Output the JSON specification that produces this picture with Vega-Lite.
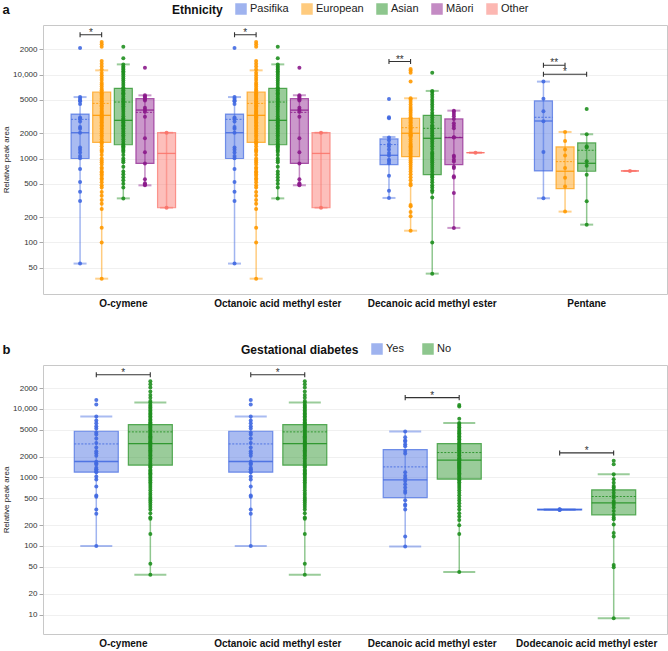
{
"$schema": "https://vega.github.io/schema/vega-lite/v6.json",
"padding": {"left": 2, "top": 2, "right": 0, "bottom": 0},
"config": {
  "font": "Liberation Sans",
  "view": {"stroke": "#c8c8c8", "strokeWidth": 1},
  "concat": {"spacing": 33},
  "axis": {"labelFont": "Liberation Sans", "titleFont": "Liberation Sans"}
},
"resolve": {"scale": {"color": "independent", "stroke": "independent", "xOffset": "independent", "x": "independent", "y": "independent"}, "legend": {"color": "independent", "stroke": "independent"}},
"datasets": {
  "statsA": [
    {"compound":"O-cymene","group":"Pasifika","lo":56,"q1":1000,"med":2030,"mean":2930,"q3":3390,"hi":5400},
    {"compound":"O-cymene","group":"European","lo":37,"q1":1560,"med":3270,"mean":4540,"q3":6200,"hi":11240},
    {"compound":"O-cymene","group":"Asian","lo":335,"q1":1460,"med":2850,"mean":4710,"q3":6860,"hi":13240},
    {"compound":"O-cymene","group":"Māori","lo":479,"q1":875,"med":3780,"mean":3550,"q3":5160,"hi":5660},
    {"compound":"O-cymene","group":"Other","lo":259,"q1":259,"med":1150,"mean":null,"q3":2030,"hi":2030},
    {"compound":"Octanoic acid methyl ester","group":"Pasifika","lo":56,"q1":1000,"med":2030,"mean":2930,"q3":3390,"hi":5400},
    {"compound":"Octanoic acid methyl ester","group":"European","lo":37,"q1":1560,"med":3270,"mean":4540,"q3":6200,"hi":11240},
    {"compound":"Octanoic acid methyl ester","group":"Asian","lo":335,"q1":1460,"med":2850,"mean":4710,"q3":6860,"hi":13240},
    {"compound":"Octanoic acid methyl ester","group":"Māori","lo":479,"q1":875,"med":3780,"mean":3550,"q3":5160,"hi":5660},
    {"compound":"Octanoic acid methyl ester","group":"Other","lo":259,"q1":259,"med":1150,"mean":null,"q3":2030,"hi":2030},
    {"compound":"Decanoic acid methyl ester","group":"Pasifika","lo":339,"q1":846,"med":1093,"mean":1465,"q3":1710,"hi":1807},
    {"compound":"Decanoic acid methyl ester","group":"European","lo":138,"q1":1054,"med":2000,"mean":2330,"q3":3020,"hi":5220},
    {"compound":"Decanoic acid methyl ester","group":"Asian","lo":42.5,"q1":643,"med":1742,"mean":2290,"q3":3275,"hi":6390},
    {"compound":"Decanoic acid methyl ester","group":"Māori","lo":149,"q1":846,"med":1775,"mean":1790,"q3":2960,"hi":3720},
    {"compound":"Decanoic acid methyl ester","group":"Other","lo":1175,"q1":1175,"med":1175,"mean":null,"q3":1175,"hi":1175},
    {"compound":"Pentane","group":"Pasifika","lo":336,"q1":711,"med":2800,"mean":3100,"q3":4850,"hi":8250},
    {"compound":"Pentane","group":"European","lo":233,"q1":438,"med":705,"mean":918,"q3":1374,"hi":2073},
    {"compound":"Pentane","group":"Asian","lo":163,"q1":705,"med":877,"mean":1254,"q3":1534,"hi":1945},
    {"compound":"Pentane","group":"Other","lo":711,"q1":711,"med":711,"mean":null,"q3":711,"hi":711}
  ],
  "bracketsA": [
    {"compound":"O-cymene","group":"Pasifika","vs":"European","y":29900,"label":"*"},
    {"compound":"Octanoic acid methyl ester","group":"Pasifika","vs":"European","y":29900,"label":"*"},
    {"compound":"Decanoic acid methyl ester","group":"Pasifika","vs":"European","y":14300,"label":"**"},
    {"compound":"Pentane","group":"Pasifika","vs":"European","y":12900,"label":"**"},
    {"compound":"Pentane","group":"Pasifika","vs":"Asian","y":10100,"label":"*"}
  ],
  "pointsA": [
    {"compound":"O-cymene","group":"Pasifika","value":20750},{"compound":"O-cymene","group":"Pasifika","value":5410},{"compound":"O-cymene","group":"Pasifika","value":5160},{"compound":"O-cymene","group":"Pasifika","value":4930},{"compound":"O-cymene","group":"Pasifika","value":4800},{"compound":"O-cymene","group":"Pasifika","value":4460},{"compound":"O-cymene","group":"Pasifika","value":3090},{"compound":"O-cymene","group":"Pasifika","value":2980},{"compound":"O-cymene","group":"Pasifika","value":2770},{"compound":"O-cymene","group":"Pasifika","value":2370},{"compound":"O-cymene","group":"Pasifika","value":2270},{"compound":"O-cymene","group":"Pasifika","value":2030},{"compound":"O-cymene","group":"Pasifika","value":1350},{"compound":"O-cymene","group":"Pasifika","value":1270},{"compound":"O-cymene","group":"Pasifika","value":1180},{"compound":"O-cymene","group":"Pasifika","value":1070},{"compound":"O-cymene","group":"Pasifika","value":1010},{"compound":"O-cymene","group":"Pasifika","value":750},{"compound":"O-cymene","group":"Pasifika","value":525},{"compound":"O-cymene","group":"Pasifika","value":403},{"compound":"O-cymene","group":"Pasifika","value":311},{"compound":"O-cymene","group":"Pasifika","value":56},
    {"compound":"O-cymene","group":"European","value":24500},{"compound":"O-cymene","group":"European","value":23000},{"compound":"O-cymene","group":"European","value":21500},{"compound":"O-cymene","group":"European","value":14500},{"compound":"O-cymene","group":"European","value":13500},{"compound":"O-cymene","group":"European","value":12500},{"compound":"O-cymene","group":"European","value":11500},{"compound":"O-cymene","group":"European","value":10500},{"compound":"O-cymene","group":"European","value":9800},{"compound":"O-cymene","group":"European","value":9200},{"compound":"O-cymene","group":"European","value":8600},{"compound":"O-cymene","group":"European","value":8000},{"compound":"O-cymene","group":"European","value":7600},{"compound":"O-cymene","group":"European","value":7200},{"compound":"O-cymene","group":"European","value":6800},{"compound":"O-cymene","group":"European","value":6500},{"compound":"O-cymene","group":"European","value":6200},{"compound":"O-cymene","group":"European","value":6000},{"compound":"O-cymene","group":"European","value":5800},{"compound":"O-cymene","group":"European","value":5600},{"compound":"O-cymene","group":"European","value":5400},{"compound":"O-cymene","group":"European","value":5200},{"compound":"O-cymene","group":"European","value":5000},{"compound":"O-cymene","group":"European","value":4800},{"compound":"O-cymene","group":"European","value":4700},{"compound":"O-cymene","group":"European","value":4500},{"compound":"O-cymene","group":"European","value":4300},{"compound":"O-cymene","group":"European","value":4200},{"compound":"O-cymene","group":"European","value":4000},{"compound":"O-cymene","group":"European","value":3900},{"compound":"O-cymene","group":"European","value":3700},{"compound":"O-cymene","group":"European","value":3600},{"compound":"O-cymene","group":"European","value":3500},{"compound":"O-cymene","group":"European","value":3400},{"compound":"O-cymene","group":"European","value":3300},{"compound":"O-cymene","group":"European","value":3200},{"compound":"O-cymene","group":"European","value":3100},{"compound":"O-cymene","group":"European","value":3000},{"compound":"O-cymene","group":"European","value":2900},{"compound":"O-cymene","group":"European","value":2800},{"compound":"O-cymene","group":"European","value":2700},{"compound":"O-cymene","group":"European","value":2600},{"compound":"O-cymene","group":"European","value":2500},{"compound":"O-cymene","group":"European","value":2400},{"compound":"O-cymene","group":"European","value":2300},{"compound":"O-cymene","group":"European","value":2200},{"compound":"O-cymene","group":"European","value":2100},{"compound":"O-cymene","group":"European","value":2000},{"compound":"O-cymene","group":"European","value":1900},{"compound":"O-cymene","group":"European","value":1800},{"compound":"O-cymene","group":"European","value":1700},{"compound":"O-cymene","group":"European","value":1600},{"compound":"O-cymene","group":"European","value":1550},{"compound":"O-cymene","group":"European","value":1500},{"compound":"O-cymene","group":"European","value":1400},{"compound":"O-cymene","group":"European","value":1300},{"compound":"O-cymene","group":"European","value":1250},{"compound":"O-cymene","group":"European","value":1200},{"compound":"O-cymene","group":"European","value":1100},{"compound":"O-cymene","group":"European","value":1000},{"compound":"O-cymene","group":"European","value":950},{"compound":"O-cymene","group":"European","value":900},{"compound":"O-cymene","group":"European","value":850},{"compound":"O-cymene","group":"European","value":780},{"compound":"O-cymene","group":"European","value":750},{"compound":"O-cymene","group":"European","value":700},{"compound":"O-cymene","group":"European","value":680},{"compound":"O-cymene","group":"European","value":650},{"compound":"O-cymene","group":"European","value":620},{"compound":"O-cymene","group":"European","value":580},{"compound":"O-cymene","group":"European","value":560},{"compound":"O-cymene","group":"European","value":520},{"compound":"O-cymene","group":"European","value":480},{"compound":"O-cymene","group":"European","value":450},{"compound":"O-cymene","group":"European","value":400},{"compound":"O-cymene","group":"European","value":360},{"compound":"O-cymene","group":"European","value":320},{"compound":"O-cymene","group":"European","value":290},{"compound":"O-cymene","group":"European","value":250},{"compound":"O-cymene","group":"European","value":150},{"compound":"O-cymene","group":"European","value":100},{"compound":"O-cymene","group":"European","value":37},
    {"compound":"O-cymene","group":"Asian","value":21500},{"compound":"O-cymene","group":"Asian","value":15700},{"compound":"O-cymene","group":"Asian","value":13200},{"compound":"O-cymene","group":"Asian","value":12500},{"compound":"O-cymene","group":"Asian","value":12000},{"compound":"O-cymene","group":"Asian","value":11500},{"compound":"O-cymene","group":"Asian","value":11000},{"compound":"O-cymene","group":"Asian","value":10500},{"compound":"O-cymene","group":"Asian","value":10000},{"compound":"O-cymene","group":"Asian","value":9500},{"compound":"O-cymene","group":"Asian","value":9000},{"compound":"O-cymene","group":"Asian","value":8500},{"compound":"O-cymene","group":"Asian","value":8000},{"compound":"O-cymene","group":"Asian","value":7500},{"compound":"O-cymene","group":"Asian","value":7000},{"compound":"O-cymene","group":"Asian","value":6800},{"compound":"O-cymene","group":"Asian","value":6500},{"compound":"O-cymene","group":"Asian","value":6200},{"compound":"O-cymene","group":"Asian","value":6000},{"compound":"O-cymene","group":"Asian","value":5800},{"compound":"O-cymene","group":"Asian","value":5500},{"compound":"O-cymene","group":"Asian","value":5200},{"compound":"O-cymene","group":"Asian","value":5000},{"compound":"O-cymene","group":"Asian","value":4800},{"compound":"O-cymene","group":"Asian","value":4600},{"compound":"O-cymene","group":"Asian","value":4400},{"compound":"O-cymene","group":"Asian","value":4200},{"compound":"O-cymene","group":"Asian","value":4000},{"compound":"O-cymene","group":"Asian","value":3800},{"compound":"O-cymene","group":"Asian","value":3600},{"compound":"O-cymene","group":"Asian","value":3400},{"compound":"O-cymene","group":"Asian","value":3200},{"compound":"O-cymene","group":"Asian","value":3000},{"compound":"O-cymene","group":"Asian","value":2900},{"compound":"O-cymene","group":"Asian","value":2800},{"compound":"O-cymene","group":"Asian","value":2700},{"compound":"O-cymene","group":"Asian","value":2600},{"compound":"O-cymene","group":"Asian","value":2500},{"compound":"O-cymene","group":"Asian","value":2400},{"compound":"O-cymene","group":"Asian","value":2300},{"compound":"O-cymene","group":"Asian","value":2200},{"compound":"O-cymene","group":"Asian","value":2100},{"compound":"O-cymene","group":"Asian","value":2000},{"compound":"O-cymene","group":"Asian","value":1900},{"compound":"O-cymene","group":"Asian","value":1800},{"compound":"O-cymene","group":"Asian","value":1700},{"compound":"O-cymene","group":"Asian","value":1600},{"compound":"O-cymene","group":"Asian","value":1500},{"compound":"O-cymene","group":"Asian","value":1450},{"compound":"O-cymene","group":"Asian","value":1400},{"compound":"O-cymene","group":"Asian","value":1350},{"compound":"O-cymene","group":"Asian","value":1300},{"compound":"O-cymene","group":"Asian","value":1250},{"compound":"O-cymene","group":"Asian","value":1200},{"compound":"O-cymene","group":"Asian","value":1100},{"compound":"O-cymene","group":"Asian","value":1000},{"compound":"O-cymene","group":"Asian","value":950},{"compound":"O-cymene","group":"Asian","value":900},{"compound":"O-cymene","group":"Asian","value":800},{"compound":"O-cymene","group":"Asian","value":700},{"compound":"O-cymene","group":"Asian","value":650},{"compound":"O-cymene","group":"Asian","value":600},{"compound":"O-cymene","group":"Asian","value":550},{"compound":"O-cymene","group":"Asian","value":500},{"compound":"O-cymene","group":"Asian","value":450},{"compound":"O-cymene","group":"Asian","value":335},
    {"compound":"O-cymene","group":"Māori","value":12100},{"compound":"O-cymene","group":"Māori","value":5660},{"compound":"O-cymene","group":"Māori","value":5500},{"compound":"O-cymene","group":"Māori","value":5300},{"compound":"O-cymene","group":"Māori","value":5100},{"compound":"O-cymene","group":"Māori","value":4900},{"compound":"O-cymene","group":"Māori","value":4040},{"compound":"O-cymene","group":"Māori","value":3800},{"compound":"O-cymene","group":"Māori","value":3600},{"compound":"O-cymene","group":"Māori","value":3150},{"compound":"O-cymene","group":"Māori","value":1740},{"compound":"O-cymene","group":"Māori","value":1190},{"compound":"O-cymene","group":"Māori","value":875},{"compound":"O-cymene","group":"Māori","value":565},{"compound":"O-cymene","group":"Māori","value":506},{"compound":"O-cymene","group":"Māori","value":490},{"compound":"O-cymene","group":"Māori","value":479},
    {"compound":"O-cymene","group":"Other","value":2030},{"compound":"O-cymene","group":"Other","value":259},
    {"compound":"Octanoic acid methyl ester","group":"Pasifika","value":20750},{"compound":"Octanoic acid methyl ester","group":"Pasifika","value":5410},{"compound":"Octanoic acid methyl ester","group":"Pasifika","value":5160},{"compound":"Octanoic acid methyl ester","group":"Pasifika","value":4930},{"compound":"Octanoic acid methyl ester","group":"Pasifika","value":4800},{"compound":"Octanoic acid methyl ester","group":"Pasifika","value":4460},{"compound":"Octanoic acid methyl ester","group":"Pasifika","value":3090},{"compound":"Octanoic acid methyl ester","group":"Pasifika","value":2980},{"compound":"Octanoic acid methyl ester","group":"Pasifika","value":2770},{"compound":"Octanoic acid methyl ester","group":"Pasifika","value":2370},{"compound":"Octanoic acid methyl ester","group":"Pasifika","value":2270},{"compound":"Octanoic acid methyl ester","group":"Pasifika","value":2030},{"compound":"Octanoic acid methyl ester","group":"Pasifika","value":1350},{"compound":"Octanoic acid methyl ester","group":"Pasifika","value":1270},{"compound":"Octanoic acid methyl ester","group":"Pasifika","value":1180},{"compound":"Octanoic acid methyl ester","group":"Pasifika","value":1070},{"compound":"Octanoic acid methyl ester","group":"Pasifika","value":1010},{"compound":"Octanoic acid methyl ester","group":"Pasifika","value":750},{"compound":"Octanoic acid methyl ester","group":"Pasifika","value":525},{"compound":"Octanoic acid methyl ester","group":"Pasifika","value":403},{"compound":"Octanoic acid methyl ester","group":"Pasifika","value":311},{"compound":"Octanoic acid methyl ester","group":"Pasifika","value":56},
    {"compound":"Octanoic acid methyl ester","group":"European","value":24500},{"compound":"Octanoic acid methyl ester","group":"European","value":23000},{"compound":"Octanoic acid methyl ester","group":"European","value":21500},{"compound":"Octanoic acid methyl ester","group":"European","value":14500},{"compound":"Octanoic acid methyl ester","group":"European","value":13500},{"compound":"Octanoic acid methyl ester","group":"European","value":12500},{"compound":"Octanoic acid methyl ester","group":"European","value":11500},{"compound":"Octanoic acid methyl ester","group":"European","value":10500},{"compound":"Octanoic acid methyl ester","group":"European","value":9800},{"compound":"Octanoic acid methyl ester","group":"European","value":9200},{"compound":"Octanoic acid methyl ester","group":"European","value":8600},{"compound":"Octanoic acid methyl ester","group":"European","value":8000},{"compound":"Octanoic acid methyl ester","group":"European","value":7600},{"compound":"Octanoic acid methyl ester","group":"European","value":7200},{"compound":"Octanoic acid methyl ester","group":"European","value":6800},{"compound":"Octanoic acid methyl ester","group":"European","value":6500},{"compound":"Octanoic acid methyl ester","group":"European","value":6200},{"compound":"Octanoic acid methyl ester","group":"European","value":6000},{"compound":"Octanoic acid methyl ester","group":"European","value":5800},{"compound":"Octanoic acid methyl ester","group":"European","value":5600},{"compound":"Octanoic acid methyl ester","group":"European","value":5400},{"compound":"Octanoic acid methyl ester","group":"European","value":5200},{"compound":"Octanoic acid methyl ester","group":"European","value":5000},{"compound":"Octanoic acid methyl ester","group":"European","value":4800},{"compound":"Octanoic acid methyl ester","group":"European","value":4700},{"compound":"Octanoic acid methyl ester","group":"European","value":4500},{"compound":"Octanoic acid methyl ester","group":"European","value":4300},{"compound":"Octanoic acid methyl ester","group":"European","value":4200},{"compound":"Octanoic acid methyl ester","group":"European","value":4000},{"compound":"Octanoic acid methyl ester","group":"European","value":3900},{"compound":"Octanoic acid methyl ester","group":"European","value":3700},{"compound":"Octanoic acid methyl ester","group":"European","value":3600},{"compound":"Octanoic acid methyl ester","group":"European","value":3500},{"compound":"Octanoic acid methyl ester","group":"European","value":3400},{"compound":"Octanoic acid methyl ester","group":"European","value":3300},{"compound":"Octanoic acid methyl ester","group":"European","value":3200},{"compound":"Octanoic acid methyl ester","group":"European","value":3100},{"compound":"Octanoic acid methyl ester","group":"European","value":3000},{"compound":"Octanoic acid methyl ester","group":"European","value":2900},{"compound":"Octanoic acid methyl ester","group":"European","value":2800},{"compound":"Octanoic acid methyl ester","group":"European","value":2700},{"compound":"Octanoic acid methyl ester","group":"European","value":2600},{"compound":"Octanoic acid methyl ester","group":"European","value":2500},{"compound":"Octanoic acid methyl ester","group":"European","value":2400},{"compound":"Octanoic acid methyl ester","group":"European","value":2300},{"compound":"Octanoic acid methyl ester","group":"European","value":2200},{"compound":"Octanoic acid methyl ester","group":"European","value":2100},{"compound":"Octanoic acid methyl ester","group":"European","value":2000},{"compound":"Octanoic acid methyl ester","group":"European","value":1900},{"compound":"Octanoic acid methyl ester","group":"European","value":1800},{"compound":"Octanoic acid methyl ester","group":"European","value":1700},{"compound":"Octanoic acid methyl ester","group":"European","value":1600},{"compound":"Octanoic acid methyl ester","group":"European","value":1550},{"compound":"Octanoic acid methyl ester","group":"European","value":1500},{"compound":"Octanoic acid methyl ester","group":"European","value":1400},{"compound":"Octanoic acid methyl ester","group":"European","value":1300},{"compound":"Octanoic acid methyl ester","group":"European","value":1250},{"compound":"Octanoic acid methyl ester","group":"European","value":1200},{"compound":"Octanoic acid methyl ester","group":"European","value":1100},{"compound":"Octanoic acid methyl ester","group":"European","value":1000},{"compound":"Octanoic acid methyl ester","group":"European","value":950},{"compound":"Octanoic acid methyl ester","group":"European","value":900},{"compound":"Octanoic acid methyl ester","group":"European","value":850},{"compound":"Octanoic acid methyl ester","group":"European","value":780},{"compound":"Octanoic acid methyl ester","group":"European","value":750},{"compound":"Octanoic acid methyl ester","group":"European","value":700},{"compound":"Octanoic acid methyl ester","group":"European","value":680},{"compound":"Octanoic acid methyl ester","group":"European","value":650},{"compound":"Octanoic acid methyl ester","group":"European","value":620},{"compound":"Octanoic acid methyl ester","group":"European","value":580},{"compound":"Octanoic acid methyl ester","group":"European","value":560},{"compound":"Octanoic acid methyl ester","group":"European","value":520},{"compound":"Octanoic acid methyl ester","group":"European","value":480},{"compound":"Octanoic acid methyl ester","group":"European","value":450},{"compound":"Octanoic acid methyl ester","group":"European","value":400},{"compound":"Octanoic acid methyl ester","group":"European","value":360},{"compound":"Octanoic acid methyl ester","group":"European","value":320},{"compound":"Octanoic acid methyl ester","group":"European","value":290},{"compound":"Octanoic acid methyl ester","group":"European","value":250},{"compound":"Octanoic acid methyl ester","group":"European","value":150},{"compound":"Octanoic acid methyl ester","group":"European","value":100},{"compound":"Octanoic acid methyl ester","group":"European","value":37},
    {"compound":"Octanoic acid methyl ester","group":"Asian","value":21500},{"compound":"Octanoic acid methyl ester","group":"Asian","value":15700},{"compound":"Octanoic acid methyl ester","group":"Asian","value":13200},{"compound":"Octanoic acid methyl ester","group":"Asian","value":12500},{"compound":"Octanoic acid methyl ester","group":"Asian","value":12000},{"compound":"Octanoic acid methyl ester","group":"Asian","value":11500},{"compound":"Octanoic acid methyl ester","group":"Asian","value":11000},{"compound":"Octanoic acid methyl ester","group":"Asian","value":10500},{"compound":"Octanoic acid methyl ester","group":"Asian","value":10000},{"compound":"Octanoic acid methyl ester","group":"Asian","value":9500},{"compound":"Octanoic acid methyl ester","group":"Asian","value":9000},{"compound":"Octanoic acid methyl ester","group":"Asian","value":8500},{"compound":"Octanoic acid methyl ester","group":"Asian","value":8000},{"compound":"Octanoic acid methyl ester","group":"Asian","value":7500},{"compound":"Octanoic acid methyl ester","group":"Asian","value":7000},{"compound":"Octanoic acid methyl ester","group":"Asian","value":6800},{"compound":"Octanoic acid methyl ester","group":"Asian","value":6500},{"compound":"Octanoic acid methyl ester","group":"Asian","value":6200},{"compound":"Octanoic acid methyl ester","group":"Asian","value":6000},{"compound":"Octanoic acid methyl ester","group":"Asian","value":5800},{"compound":"Octanoic acid methyl ester","group":"Asian","value":5500},{"compound":"Octanoic acid methyl ester","group":"Asian","value":5200},{"compound":"Octanoic acid methyl ester","group":"Asian","value":5000},{"compound":"Octanoic acid methyl ester","group":"Asian","value":4800},{"compound":"Octanoic acid methyl ester","group":"Asian","value":4600},{"compound":"Octanoic acid methyl ester","group":"Asian","value":4400},{"compound":"Octanoic acid methyl ester","group":"Asian","value":4200},{"compound":"Octanoic acid methyl ester","group":"Asian","value":4000},{"compound":"Octanoic acid methyl ester","group":"Asian","value":3800},{"compound":"Octanoic acid methyl ester","group":"Asian","value":3600},{"compound":"Octanoic acid methyl ester","group":"Asian","value":3400},{"compound":"Octanoic acid methyl ester","group":"Asian","value":3200},{"compound":"Octanoic acid methyl ester","group":"Asian","value":3000},{"compound":"Octanoic acid methyl ester","group":"Asian","value":2900},{"compound":"Octanoic acid methyl ester","group":"Asian","value":2800},{"compound":"Octanoic acid methyl ester","group":"Asian","value":2700},{"compound":"Octanoic acid methyl ester","group":"Asian","value":2600},{"compound":"Octanoic acid methyl ester","group":"Asian","value":2500},{"compound":"Octanoic acid methyl ester","group":"Asian","value":2400},{"compound":"Octanoic acid methyl ester","group":"Asian","value":2300},{"compound":"Octanoic acid methyl ester","group":"Asian","value":2200},{"compound":"Octanoic acid methyl ester","group":"Asian","value":2100},{"compound":"Octanoic acid methyl ester","group":"Asian","value":2000},{"compound":"Octanoic acid methyl ester","group":"Asian","value":1900},{"compound":"Octanoic acid methyl ester","group":"Asian","value":1800},{"compound":"Octanoic acid methyl ester","group":"Asian","value":1700},{"compound":"Octanoic acid methyl ester","group":"Asian","value":1600},{"compound":"Octanoic acid methyl ester","group":"Asian","value":1500},{"compound":"Octanoic acid methyl ester","group":"Asian","value":1450},{"compound":"Octanoic acid methyl ester","group":"Asian","value":1400},{"compound":"Octanoic acid methyl ester","group":"Asian","value":1350},{"compound":"Octanoic acid methyl ester","group":"Asian","value":1300},{"compound":"Octanoic acid methyl ester","group":"Asian","value":1250},{"compound":"Octanoic acid methyl ester","group":"Asian","value":1200},{"compound":"Octanoic acid methyl ester","group":"Asian","value":1100},{"compound":"Octanoic acid methyl ester","group":"Asian","value":1000},{"compound":"Octanoic acid methyl ester","group":"Asian","value":950},{"compound":"Octanoic acid methyl ester","group":"Asian","value":900},{"compound":"Octanoic acid methyl ester","group":"Asian","value":800},{"compound":"Octanoic acid methyl ester","group":"Asian","value":700},{"compound":"Octanoic acid methyl ester","group":"Asian","value":650},{"compound":"Octanoic acid methyl ester","group":"Asian","value":600},{"compound":"Octanoic acid methyl ester","group":"Asian","value":550},{"compound":"Octanoic acid methyl ester","group":"Asian","value":500},{"compound":"Octanoic acid methyl ester","group":"Asian","value":450},{"compound":"Octanoic acid methyl ester","group":"Asian","value":335},
    {"compound":"Octanoic acid methyl ester","group":"Māori","value":12100},{"compound":"Octanoic acid methyl ester","group":"Māori","value":5660},{"compound":"Octanoic acid methyl ester","group":"Māori","value":5500},{"compound":"Octanoic acid methyl ester","group":"Māori","value":5300},{"compound":"Octanoic acid methyl ester","group":"Māori","value":5100},{"compound":"Octanoic acid methyl ester","group":"Māori","value":4900},{"compound":"Octanoic acid methyl ester","group":"Māori","value":4040},{"compound":"Octanoic acid methyl ester","group":"Māori","value":3800},{"compound":"Octanoic acid methyl ester","group":"Māori","value":3600},{"compound":"Octanoic acid methyl ester","group":"Māori","value":3150},{"compound":"Octanoic acid methyl ester","group":"Māori","value":1740},{"compound":"Octanoic acid methyl ester","group":"Māori","value":1190},{"compound":"Octanoic acid methyl ester","group":"Māori","value":875},{"compound":"Octanoic acid methyl ester","group":"Māori","value":565},{"compound":"Octanoic acid methyl ester","group":"Māori","value":506},{"compound":"Octanoic acid methyl ester","group":"Māori","value":490},{"compound":"Octanoic acid methyl ester","group":"Māori","value":479},
    {"compound":"Octanoic acid methyl ester","group":"Other","value":2030},{"compound":"Octanoic acid methyl ester","group":"Other","value":259},
    {"compound":"Decanoic acid methyl ester","group":"Pasifika","value":5130},{"compound":"Decanoic acid methyl ester","group":"Pasifika","value":3100},{"compound":"Decanoic acid methyl ester","group":"Pasifika","value":3020},{"compound":"Decanoic acid methyl ester","group":"Pasifika","value":1775},{"compound":"Decanoic acid methyl ester","group":"Pasifika","value":1650},{"compound":"Decanoic acid methyl ester","group":"Pasifika","value":1490},{"compound":"Decanoic acid methyl ester","group":"Pasifika","value":1400},{"compound":"Decanoic acid methyl ester","group":"Pasifika","value":1280},{"compound":"Decanoic acid methyl ester","group":"Pasifika","value":1165},{"compound":"Decanoic acid methyl ester","group":"Pasifika","value":1083},{"compound":"Decanoic acid methyl ester","group":"Pasifika","value":970},{"compound":"Decanoic acid methyl ester","group":"Pasifika","value":935},{"compound":"Decanoic acid methyl ester","group":"Pasifika","value":878},{"compound":"Decanoic acid methyl ester","group":"Pasifika","value":625},{"compound":"Decanoic acid methyl ester","group":"Pasifika","value":414},{"compound":"Decanoic acid methyl ester","group":"Pasifika","value":339},
    {"compound":"Decanoic acid methyl ester","group":"European","value":11700},{"compound":"Decanoic acid methyl ester","group":"European","value":11200},{"compound":"Decanoic acid methyl ester","group":"European","value":10500},{"compound":"Decanoic acid methyl ester","group":"European","value":8250},{"compound":"Decanoic acid methyl ester","group":"European","value":5220},{"compound":"Decanoic acid methyl ester","group":"European","value":5000},{"compound":"Decanoic acid methyl ester","group":"European","value":4700},{"compound":"Decanoic acid methyl ester","group":"European","value":4400},{"compound":"Decanoic acid methyl ester","group":"European","value":4100},{"compound":"Decanoic acid methyl ester","group":"European","value":3900},{"compound":"Decanoic acid methyl ester","group":"European","value":3700},{"compound":"Decanoic acid methyl ester","group":"European","value":3500},{"compound":"Decanoic acid methyl ester","group":"European","value":3300},{"compound":"Decanoic acid methyl ester","group":"European","value":3100},{"compound":"Decanoic acid methyl ester","group":"European","value":3000},{"compound":"Decanoic acid methyl ester","group":"European","value":2900},{"compound":"Decanoic acid methyl ester","group":"European","value":2800},{"compound":"Decanoic acid methyl ester","group":"European","value":2700},{"compound":"Decanoic acid methyl ester","group":"European","value":2600},{"compound":"Decanoic acid methyl ester","group":"European","value":2500},{"compound":"Decanoic acid methyl ester","group":"European","value":2400},{"compound":"Decanoic acid methyl ester","group":"European","value":2300},{"compound":"Decanoic acid methyl ester","group":"European","value":2200},{"compound":"Decanoic acid methyl ester","group":"European","value":2100},{"compound":"Decanoic acid methyl ester","group":"European","value":2000},{"compound":"Decanoic acid methyl ester","group":"European","value":1950},{"compound":"Decanoic acid methyl ester","group":"European","value":1900},{"compound":"Decanoic acid methyl ester","group":"European","value":1850},{"compound":"Decanoic acid methyl ester","group":"European","value":1800},{"compound":"Decanoic acid methyl ester","group":"European","value":1700},{"compound":"Decanoic acid methyl ester","group":"European","value":1600},{"compound":"Decanoic acid methyl ester","group":"European","value":1500},{"compound":"Decanoic acid methyl ester","group":"European","value":1450},{"compound":"Decanoic acid methyl ester","group":"European","value":1400},{"compound":"Decanoic acid methyl ester","group":"European","value":1350},{"compound":"Decanoic acid methyl ester","group":"European","value":1300},{"compound":"Decanoic acid methyl ester","group":"European","value":1250},{"compound":"Decanoic acid methyl ester","group":"European","value":1200},{"compound":"Decanoic acid methyl ester","group":"European","value":1150},{"compound":"Decanoic acid methyl ester","group":"European","value":1100},{"compound":"Decanoic acid methyl ester","group":"European","value":1050},{"compound":"Decanoic acid methyl ester","group":"European","value":1000},{"compound":"Decanoic acid methyl ester","group":"European","value":950},{"compound":"Decanoic acid methyl ester","group":"European","value":900},{"compound":"Decanoic acid methyl ester","group":"European","value":850},{"compound":"Decanoic acid methyl ester","group":"European","value":800},{"compound":"Decanoic acid methyl ester","group":"European","value":750},{"compound":"Decanoic acid methyl ester","group":"European","value":700},{"compound":"Decanoic acid methyl ester","group":"European","value":650},{"compound":"Decanoic acid methyl ester","group":"European","value":600},{"compound":"Decanoic acid methyl ester","group":"European","value":550},{"compound":"Decanoic acid methyl ester","group":"European","value":500},{"compound":"Decanoic acid methyl ester","group":"European","value":480},{"compound":"Decanoic acid methyl ester","group":"European","value":280},{"compound":"Decanoic acid methyl ester","group":"European","value":270},{"compound":"Decanoic acid methyl ester","group":"European","value":230},{"compound":"Decanoic acid methyl ester","group":"European","value":205},{"compound":"Decanoic acid methyl ester","group":"European","value":138},
    {"compound":"Decanoic acid methyl ester","group":"Asian","value":10550},{"compound":"Decanoic acid methyl ester","group":"Asian","value":6390},{"compound":"Decanoic acid methyl ester","group":"Asian","value":6200},{"compound":"Decanoic acid methyl ester","group":"Asian","value":5800},{"compound":"Decanoic acid methyl ester","group":"Asian","value":5400},{"compound":"Decanoic acid methyl ester","group":"Asian","value":5000},{"compound":"Decanoic acid methyl ester","group":"Asian","value":4700},{"compound":"Decanoic acid methyl ester","group":"Asian","value":4400},{"compound":"Decanoic acid methyl ester","group":"Asian","value":4100},{"compound":"Decanoic acid methyl ester","group":"Asian","value":3800},{"compound":"Decanoic acid methyl ester","group":"Asian","value":3500},{"compound":"Decanoic acid methyl ester","group":"Asian","value":3300},{"compound":"Decanoic acid methyl ester","group":"Asian","value":3100},{"compound":"Decanoic acid methyl ester","group":"Asian","value":2900},{"compound":"Decanoic acid methyl ester","group":"Asian","value":2700},{"compound":"Decanoic acid methyl ester","group":"Asian","value":2500},{"compound":"Decanoic acid methyl ester","group":"Asian","value":2400},{"compound":"Decanoic acid methyl ester","group":"Asian","value":2300},{"compound":"Decanoic acid methyl ester","group":"Asian","value":2200},{"compound":"Decanoic acid methyl ester","group":"Asian","value":2100},{"compound":"Decanoic acid methyl ester","group":"Asian","value":2000},{"compound":"Decanoic acid methyl ester","group":"Asian","value":1900},{"compound":"Decanoic acid methyl ester","group":"Asian","value":1800},{"compound":"Decanoic acid methyl ester","group":"Asian","value":1700},{"compound":"Decanoic acid methyl ester","group":"Asian","value":1600},{"compound":"Decanoic acid methyl ester","group":"Asian","value":1500},{"compound":"Decanoic acid methyl ester","group":"Asian","value":1400},{"compound":"Decanoic acid methyl ester","group":"Asian","value":1300},{"compound":"Decanoic acid methyl ester","group":"Asian","value":1200},{"compound":"Decanoic acid methyl ester","group":"Asian","value":1150},{"compound":"Decanoic acid methyl ester","group":"Asian","value":1100},{"compound":"Decanoic acid methyl ester","group":"Asian","value":1050},{"compound":"Decanoic acid methyl ester","group":"Asian","value":1000},{"compound":"Decanoic acid methyl ester","group":"Asian","value":950},{"compound":"Decanoic acid methyl ester","group":"Asian","value":900},{"compound":"Decanoic acid methyl ester","group":"Asian","value":850},{"compound":"Decanoic acid methyl ester","group":"Asian","value":800},{"compound":"Decanoic acid methyl ester","group":"Asian","value":750},{"compound":"Decanoic acid methyl ester","group":"Asian","value":700},{"compound":"Decanoic acid methyl ester","group":"Asian","value":650},{"compound":"Decanoic acid methyl ester","group":"Asian","value":620},{"compound":"Decanoic acid methyl ester","group":"Asian","value":600},{"compound":"Decanoic acid methyl ester","group":"Asian","value":560},{"compound":"Decanoic acid methyl ester","group":"Asian","value":520},{"compound":"Decanoic acid methyl ester","group":"Asian","value":480},{"compound":"Decanoic acid methyl ester","group":"Asian","value":450},{"compound":"Decanoic acid methyl ester","group":"Asian","value":420},{"compound":"Decanoic acid methyl ester","group":"Asian","value":400},{"compound":"Decanoic acid methyl ester","group":"Asian","value":344},{"compound":"Decanoic acid methyl ester","group":"Asian","value":100},{"compound":"Decanoic acid methyl ester","group":"Asian","value":42.5},
    {"compound":"Decanoic acid methyl ester","group":"Māori","value":3720},{"compound":"Decanoic acid methyl ester","group":"Māori","value":3600},{"compound":"Decanoic acid methyl ester","group":"Māori","value":3400},{"compound":"Decanoic acid methyl ester","group":"Māori","value":3200},{"compound":"Decanoic acid methyl ester","group":"Māori","value":2960},{"compound":"Decanoic acid methyl ester","group":"Māori","value":2630},{"compound":"Decanoic acid methyl ester","group":"Māori","value":2450},{"compound":"Decanoic acid methyl ester","group":"Māori","value":2300},{"compound":"Decanoic acid methyl ester","group":"Māori","value":1790},{"compound":"Decanoic acid methyl ester","group":"Māori","value":1780},{"compound":"Decanoic acid methyl ester","group":"Māori","value":1080},{"compound":"Decanoic acid methyl ester","group":"Māori","value":1040},{"compound":"Decanoic acid methyl ester","group":"Māori","value":970},{"compound":"Decanoic acid methyl ester","group":"Māori","value":920},{"compound":"Decanoic acid methyl ester","group":"Māori","value":800},{"compound":"Decanoic acid methyl ester","group":"Māori","value":770},{"compound":"Decanoic acid methyl ester","group":"Māori","value":614},{"compound":"Decanoic acid methyl ester","group":"Māori","value":595},{"compound":"Decanoic acid methyl ester","group":"Māori","value":389},{"compound":"Decanoic acid methyl ester","group":"Māori","value":149},
    {"compound":"Decanoic acid methyl ester","group":"Other","value":1175},
    {"compound":"Pentane","group":"Pasifika","value":8250},{"compound":"Pentane","group":"Pasifika","value":5170},{"compound":"Pentane","group":"Pasifika","value":3660},{"compound":"Pentane","group":"Pasifika","value":2780},{"compound":"Pentane","group":"Pasifika","value":1200},{"compound":"Pentane","group":"Pasifika","value":336},
    {"compound":"Pentane","group":"European","value":2073},{"compound":"Pentane","group":"European","value":1620},{"compound":"Pentane","group":"European","value":1280},{"compound":"Pentane","group":"European","value":1090},{"compound":"Pentane","group":"European","value":770},{"compound":"Pentane","group":"European","value":590},{"compound":"Pentane","group":"European","value":463},{"compound":"Pentane","group":"European","value":233},
    {"compound":"Pentane","group":"Asian","value":3900},{"compound":"Pentane","group":"Asian","value":1945},{"compound":"Pentane","group":"Asian","value":1400},{"compound":"Pentane","group":"Asian","value":1350},{"compound":"Pentane","group":"Asian","value":930},{"compound":"Pentane","group":"Asian","value":820},{"compound":"Pentane","group":"Asian","value":640},{"compound":"Pentane","group":"Asian","value":310},{"compound":"Pentane","group":"Asian","value":163},
    {"compound":"Pentane","group":"Other","value":711}
  ],
  "statsB": [
    {"compound":"O-cymene","group":"Yes","lo":100,"q1":1192,"med":1708,"mean":3083,"q3":4720,"hi":7740},
    {"compound":"O-cymene","group":"No","lo":38,"q1":1510,"med":3120,"mean":4620,"q3":5900,"hi":12360},
    {"compound":"Octanoic acid methyl ester","group":"Yes","lo":100,"q1":1192,"med":1708,"mean":3083,"q3":4720,"hi":7740},
    {"compound":"Octanoic acid methyl ester","group":"No","lo":38,"q1":1510,"med":3120,"mean":4620,"q3":5900,"hi":12360},
    {"compound":"Decanoic acid methyl ester","group":"Yes","lo":98,"q1":509,"med":923,"mean":1426,"q3":2553,"hi":4670},
    {"compound":"Decanoic acid methyl ester","group":"No","lo":41.6,"q1":942,"med":1785,"mean":2308,"q3":3120,"hi":6250},
    {"compound":"Dodecanoic acid methyl ester","group":"Yes","lo":335,"q1":335,"med":340,"mean":340,"q3":345,"hi":345},
    {"compound":"Dodecanoic acid methyl ester","group":"No","lo":8.8,"q1":285,"med":426,"mean":527,"q3":660,"hi":1114}
  ],
  "bracketsB": [
    {"compound":"O-cymene","group":"Yes","vs":"No","y":31500,"label":"*"},
    {"compound":"Octanoic acid methyl ester","group":"Yes","vs":"No","y":31500,"label":"*"},
    {"compound":"Decanoic acid methyl ester","group":"Yes","vs":"No","y":14600,"label":"*"},
    {"compound":"Dodecanoic acid methyl ester","group":"Yes","vs":"No","y":2280,"label":"*"}
  ],
  "pointsB": [
    {"compound":"O-cymene","group":"Yes","value":13520},{"compound":"O-cymene","group":"Yes","value":11560},{"compound":"O-cymene","group":"Yes","value":7730},{"compound":"O-cymene","group":"Yes","value":6760},{"compound":"O-cymene","group":"Yes","value":6180},{"compound":"O-cymene","group":"Yes","value":5580},{"compound":"O-cymene","group":"Yes","value":5160},{"compound":"O-cymene","group":"Yes","value":4520},{"compound":"O-cymene","group":"Yes","value":4230},{"compound":"O-cymene","group":"Yes","value":3690},{"compound":"O-cymene","group":"Yes","value":3190},{"compound":"O-cymene","group":"Yes","value":2730},{"compound":"O-cymene","group":"Yes","value":2410},{"compound":"O-cymene","group":"Yes","value":2260},{"compound":"O-cymene","group":"Yes","value":2065},{"compound":"O-cymene","group":"Yes","value":1690},{"compound":"O-cymene","group":"Yes","value":1615},{"compound":"O-cymene","group":"Yes","value":1543},{"compound":"O-cymene","group":"Yes","value":1380},{"compound":"O-cymene","group":"Yes","value":1320},{"compound":"O-cymene","group":"Yes","value":1290},{"compound":"O-cymene","group":"Yes","value":1220},{"compound":"O-cymene","group":"Yes","value":1195},{"compound":"O-cymene","group":"Yes","value":1031},{"compound":"O-cymene","group":"Yes","value":933},{"compound":"O-cymene","group":"Yes","value":738},{"compound":"O-cymene","group":"Yes","value":545},{"compound":"O-cymene","group":"Yes","value":521},{"compound":"O-cymene","group":"Yes","value":340},{"compound":"O-cymene","group":"Yes","value":295},{"compound":"O-cymene","group":"Yes","value":100},
    {"compound":"O-cymene","group":"No","value":25300},{"compound":"O-cymene","group":"No","value":22900},{"compound":"O-cymene","group":"No","value":20500},{"compound":"O-cymene","group":"No","value":18000},{"compound":"O-cymene","group":"No","value":16000},{"compound":"O-cymene","group":"No","value":14500},{"compound":"O-cymene","group":"No","value":13000},{"compound":"O-cymene","group":"No","value":12360},{"compound":"O-cymene","group":"No","value":11500},{"compound":"O-cymene","group":"No","value":11000},{"compound":"O-cymene","group":"No","value":10500},{"compound":"O-cymene","group":"No","value":10000},{"compound":"O-cymene","group":"No","value":9500},{"compound":"O-cymene","group":"No","value":9000},{"compound":"O-cymene","group":"No","value":8600},{"compound":"O-cymene","group":"No","value":8200},{"compound":"O-cymene","group":"No","value":7800},{"compound":"O-cymene","group":"No","value":7400},{"compound":"O-cymene","group":"No","value":7000},{"compound":"O-cymene","group":"No","value":6700},{"compound":"O-cymene","group":"No","value":6400},{"compound":"O-cymene","group":"No","value":6100},{"compound":"O-cymene","group":"No","value":5900},{"compound":"O-cymene","group":"No","value":5700},{"compound":"O-cymene","group":"No","value":5500},{"compound":"O-cymene","group":"No","value":5300},{"compound":"O-cymene","group":"No","value":5100},{"compound":"O-cymene","group":"No","value":4900},{"compound":"O-cymene","group":"No","value":4700},{"compound":"O-cymene","group":"No","value":4500},{"compound":"O-cymene","group":"No","value":4300},{"compound":"O-cymene","group":"No","value":4150},{"compound":"O-cymene","group":"No","value":4000},{"compound":"O-cymene","group":"No","value":3850},{"compound":"O-cymene","group":"No","value":3700},{"compound":"O-cymene","group":"No","value":3550},{"compound":"O-cymene","group":"No","value":3400},{"compound":"O-cymene","group":"No","value":3300},{"compound":"O-cymene","group":"No","value":3200},{"compound":"O-cymene","group":"No","value":3120},{"compound":"O-cymene","group":"No","value":3000},{"compound":"O-cymene","group":"No","value":2900},{"compound":"O-cymene","group":"No","value":2800},{"compound":"O-cymene","group":"No","value":2700},{"compound":"O-cymene","group":"No","value":2600},{"compound":"O-cymene","group":"No","value":2500},{"compound":"O-cymene","group":"No","value":2400},{"compound":"O-cymene","group":"No","value":2300},{"compound":"O-cymene","group":"No","value":2200},{"compound":"O-cymene","group":"No","value":2100},{"compound":"O-cymene","group":"No","value":2000},{"compound":"O-cymene","group":"No","value":1900},{"compound":"O-cymene","group":"No","value":1800},{"compound":"O-cymene","group":"No","value":1700},{"compound":"O-cymene","group":"No","value":1600},{"compound":"O-cymene","group":"No","value":1510},{"compound":"O-cymene","group":"No","value":1450},{"compound":"O-cymene","group":"No","value":1400},{"compound":"O-cymene","group":"No","value":1300},{"compound":"O-cymene","group":"No","value":1250},{"compound":"O-cymene","group":"No","value":1200},{"compound":"O-cymene","group":"No","value":1150},{"compound":"O-cymene","group":"No","value":1100},{"compound":"O-cymene","group":"No","value":1050},{"compound":"O-cymene","group":"No","value":1000},{"compound":"O-cymene","group":"No","value":950},{"compound":"O-cymene","group":"No","value":900},{"compound":"O-cymene","group":"No","value":850},{"compound":"O-cymene","group":"No","value":800},{"compound":"O-cymene","group":"No","value":750},{"compound":"O-cymene","group":"No","value":700},{"compound":"O-cymene","group":"No","value":650},{"compound":"O-cymene","group":"No","value":600},{"compound":"O-cymene","group":"No","value":560},{"compound":"O-cymene","group":"No","value":520},{"compound":"O-cymene","group":"No","value":490},{"compound":"O-cymene","group":"No","value":460},{"compound":"O-cymene","group":"No","value":430},{"compound":"O-cymene","group":"No","value":400},{"compound":"O-cymene","group":"No","value":370},{"compound":"O-cymene","group":"No","value":340},{"compound":"O-cymene","group":"No","value":300},{"compound":"O-cymene","group":"No","value":260},{"compound":"O-cymene","group":"No","value":250},{"compound":"O-cymene","group":"No","value":150},{"compound":"O-cymene","group":"No","value":55},{"compound":"O-cymene","group":"No","value":38},
    {"compound":"Octanoic acid methyl ester","group":"Yes","value":13520},{"compound":"Octanoic acid methyl ester","group":"Yes","value":11560},{"compound":"Octanoic acid methyl ester","group":"Yes","value":7730},{"compound":"Octanoic acid methyl ester","group":"Yes","value":6760},{"compound":"Octanoic acid methyl ester","group":"Yes","value":6180},{"compound":"Octanoic acid methyl ester","group":"Yes","value":5580},{"compound":"Octanoic acid methyl ester","group":"Yes","value":5160},{"compound":"Octanoic acid methyl ester","group":"Yes","value":4520},{"compound":"Octanoic acid methyl ester","group":"Yes","value":4230},{"compound":"Octanoic acid methyl ester","group":"Yes","value":3690},{"compound":"Octanoic acid methyl ester","group":"Yes","value":3190},{"compound":"Octanoic acid methyl ester","group":"Yes","value":2730},{"compound":"Octanoic acid methyl ester","group":"Yes","value":2410},{"compound":"Octanoic acid methyl ester","group":"Yes","value":2260},{"compound":"Octanoic acid methyl ester","group":"Yes","value":2065},{"compound":"Octanoic acid methyl ester","group":"Yes","value":1690},{"compound":"Octanoic acid methyl ester","group":"Yes","value":1615},{"compound":"Octanoic acid methyl ester","group":"Yes","value":1543},{"compound":"Octanoic acid methyl ester","group":"Yes","value":1380},{"compound":"Octanoic acid methyl ester","group":"Yes","value":1320},{"compound":"Octanoic acid methyl ester","group":"Yes","value":1290},{"compound":"Octanoic acid methyl ester","group":"Yes","value":1220},{"compound":"Octanoic acid methyl ester","group":"Yes","value":1195},{"compound":"Octanoic acid methyl ester","group":"Yes","value":1031},{"compound":"Octanoic acid methyl ester","group":"Yes","value":933},{"compound":"Octanoic acid methyl ester","group":"Yes","value":738},{"compound":"Octanoic acid methyl ester","group":"Yes","value":545},{"compound":"Octanoic acid methyl ester","group":"Yes","value":521},{"compound":"Octanoic acid methyl ester","group":"Yes","value":340},{"compound":"Octanoic acid methyl ester","group":"Yes","value":295},{"compound":"Octanoic acid methyl ester","group":"Yes","value":100},
    {"compound":"Octanoic acid methyl ester","group":"No","value":25300},{"compound":"Octanoic acid methyl ester","group":"No","value":22900},{"compound":"Octanoic acid methyl ester","group":"No","value":20500},{"compound":"Octanoic acid methyl ester","group":"No","value":18000},{"compound":"Octanoic acid methyl ester","group":"No","value":16000},{"compound":"Octanoic acid methyl ester","group":"No","value":14500},{"compound":"Octanoic acid methyl ester","group":"No","value":13000},{"compound":"Octanoic acid methyl ester","group":"No","value":12360},{"compound":"Octanoic acid methyl ester","group":"No","value":11500},{"compound":"Octanoic acid methyl ester","group":"No","value":11000},{"compound":"Octanoic acid methyl ester","group":"No","value":10500},{"compound":"Octanoic acid methyl ester","group":"No","value":10000},{"compound":"Octanoic acid methyl ester","group":"No","value":9500},{"compound":"Octanoic acid methyl ester","group":"No","value":9000},{"compound":"Octanoic acid methyl ester","group":"No","value":8600},{"compound":"Octanoic acid methyl ester","group":"No","value":8200},{"compound":"Octanoic acid methyl ester","group":"No","value":7800},{"compound":"Octanoic acid methyl ester","group":"No","value":7400},{"compound":"Octanoic acid methyl ester","group":"No","value":7000},{"compound":"Octanoic acid methyl ester","group":"No","value":6700},{"compound":"Octanoic acid methyl ester","group":"No","value":6400},{"compound":"Octanoic acid methyl ester","group":"No","value":6100},{"compound":"Octanoic acid methyl ester","group":"No","value":5900},{"compound":"Octanoic acid methyl ester","group":"No","value":5700},{"compound":"Octanoic acid methyl ester","group":"No","value":5500},{"compound":"Octanoic acid methyl ester","group":"No","value":5300},{"compound":"Octanoic acid methyl ester","group":"No","value":5100},{"compound":"Octanoic acid methyl ester","group":"No","value":4900},{"compound":"Octanoic acid methyl ester","group":"No","value":4700},{"compound":"Octanoic acid methyl ester","group":"No","value":4500},{"compound":"Octanoic acid methyl ester","group":"No","value":4300},{"compound":"Octanoic acid methyl ester","group":"No","value":4150},{"compound":"Octanoic acid methyl ester","group":"No","value":4000},{"compound":"Octanoic acid methyl ester","group":"No","value":3850},{"compound":"Octanoic acid methyl ester","group":"No","value":3700},{"compound":"Octanoic acid methyl ester","group":"No","value":3550},{"compound":"Octanoic acid methyl ester","group":"No","value":3400},{"compound":"Octanoic acid methyl ester","group":"No","value":3300},{"compound":"Octanoic acid methyl ester","group":"No","value":3200},{"compound":"Octanoic acid methyl ester","group":"No","value":3120},{"compound":"Octanoic acid methyl ester","group":"No","value":3000},{"compound":"Octanoic acid methyl ester","group":"No","value":2900},{"compound":"Octanoic acid methyl ester","group":"No","value":2800},{"compound":"Octanoic acid methyl ester","group":"No","value":2700},{"compound":"Octanoic acid methyl ester","group":"No","value":2600},{"compound":"Octanoic acid methyl ester","group":"No","value":2500},{"compound":"Octanoic acid methyl ester","group":"No","value":2400},{"compound":"Octanoic acid methyl ester","group":"No","value":2300},{"compound":"Octanoic acid methyl ester","group":"No","value":2200},{"compound":"Octanoic acid methyl ester","group":"No","value":2100},{"compound":"Octanoic acid methyl ester","group":"No","value":2000},{"compound":"Octanoic acid methyl ester","group":"No","value":1900},{"compound":"Octanoic acid methyl ester","group":"No","value":1800},{"compound":"Octanoic acid methyl ester","group":"No","value":1700},{"compound":"Octanoic acid methyl ester","group":"No","value":1600},{"compound":"Octanoic acid methyl ester","group":"No","value":1510},{"compound":"Octanoic acid methyl ester","group":"No","value":1450},{"compound":"Octanoic acid methyl ester","group":"No","value":1400},{"compound":"Octanoic acid methyl ester","group":"No","value":1300},{"compound":"Octanoic acid methyl ester","group":"No","value":1250},{"compound":"Octanoic acid methyl ester","group":"No","value":1200},{"compound":"Octanoic acid methyl ester","group":"No","value":1150},{"compound":"Octanoic acid methyl ester","group":"No","value":1100},{"compound":"Octanoic acid methyl ester","group":"No","value":1050},{"compound":"Octanoic acid methyl ester","group":"No","value":1000},{"compound":"Octanoic acid methyl ester","group":"No","value":950},{"compound":"Octanoic acid methyl ester","group":"No","value":900},{"compound":"Octanoic acid methyl ester","group":"No","value":850},{"compound":"Octanoic acid methyl ester","group":"No","value":800},{"compound":"Octanoic acid methyl ester","group":"No","value":750},{"compound":"Octanoic acid methyl ester","group":"No","value":700},{"compound":"Octanoic acid methyl ester","group":"No","value":650},{"compound":"Octanoic acid methyl ester","group":"No","value":600},{"compound":"Octanoic acid methyl ester","group":"No","value":560},{"compound":"Octanoic acid methyl ester","group":"No","value":520},{"compound":"Octanoic acid methyl ester","group":"No","value":490},{"compound":"Octanoic acid methyl ester","group":"No","value":460},{"compound":"Octanoic acid methyl ester","group":"No","value":430},{"compound":"Octanoic acid methyl ester","group":"No","value":400},{"compound":"Octanoic acid methyl ester","group":"No","value":370},{"compound":"Octanoic acid methyl ester","group":"No","value":340},{"compound":"Octanoic acid methyl ester","group":"No","value":300},{"compound":"Octanoic acid methyl ester","group":"No","value":260},{"compound":"Octanoic acid methyl ester","group":"No","value":250},{"compound":"Octanoic acid methyl ester","group":"No","value":150},{"compound":"Octanoic acid methyl ester","group":"No","value":55},{"compound":"Octanoic acid methyl ester","group":"No","value":38},
    {"compound":"Decanoic acid methyl ester","group":"Yes","value":4670},{"compound":"Decanoic acid methyl ester","group":"Yes","value":3860},{"compound":"Decanoic acid methyl ester","group":"Yes","value":3490},{"compound":"Decanoic acid methyl ester","group":"Yes","value":3340},{"compound":"Decanoic acid methyl ester","group":"Yes","value":3055},{"compound":"Decanoic acid methyl ester","group":"Yes","value":2860},{"compound":"Decanoic acid methyl ester","group":"Yes","value":2440},{"compound":"Decanoic acid methyl ester","group":"Yes","value":2230},{"compound":"Decanoic acid methyl ester","group":"Yes","value":1193},{"compound":"Decanoic acid methyl ester","group":"Yes","value":1055},{"compound":"Decanoic acid methyl ester","group":"Yes","value":975},{"compound":"Decanoic acid methyl ester","group":"Yes","value":891},{"compound":"Decanoic acid methyl ester","group":"Yes","value":798},{"compound":"Decanoic acid methyl ester","group":"Yes","value":713},{"compound":"Decanoic acid methyl ester","group":"Yes","value":637},{"compound":"Decanoic acid methyl ester","group":"Yes","value":596},{"compound":"Decanoic acid methyl ester","group":"Yes","value":466},{"compound":"Decanoic acid methyl ester","group":"Yes","value":403},{"compound":"Decanoic acid methyl ester","group":"Yes","value":385},{"compound":"Decanoic acid methyl ester","group":"Yes","value":340},{"compound":"Decanoic acid methyl ester","group":"Yes","value":138},{"compound":"Decanoic acid methyl ester","group":"Yes","value":98},
    {"compound":"Decanoic acid methyl ester","group":"No","value":11430},{"compound":"Decanoic acid methyl ester","group":"No","value":10800},{"compound":"Decanoic acid methyl ester","group":"No","value":7200},{"compound":"Decanoic acid methyl ester","group":"No","value":6250},{"compound":"Decanoic acid methyl ester","group":"No","value":6000},{"compound":"Decanoic acid methyl ester","group":"No","value":5700},{"compound":"Decanoic acid methyl ester","group":"No","value":5400},{"compound":"Decanoic acid methyl ester","group":"No","value":5100},{"compound":"Decanoic acid methyl ester","group":"No","value":4800},{"compound":"Decanoic acid methyl ester","group":"No","value":4600},{"compound":"Decanoic acid methyl ester","group":"No","value":4400},{"compound":"Decanoic acid methyl ester","group":"No","value":4200},{"compound":"Decanoic acid methyl ester","group":"No","value":4000},{"compound":"Decanoic acid methyl ester","group":"No","value":3800},{"compound":"Decanoic acid methyl ester","group":"No","value":3600},{"compound":"Decanoic acid methyl ester","group":"No","value":3400},{"compound":"Decanoic acid methyl ester","group":"No","value":3200},{"compound":"Decanoic acid methyl ester","group":"No","value":3100},{"compound":"Decanoic acid methyl ester","group":"No","value":3000},{"compound":"Decanoic acid methyl ester","group":"No","value":2900},{"compound":"Decanoic acid methyl ester","group":"No","value":2800},{"compound":"Decanoic acid methyl ester","group":"No","value":2700},{"compound":"Decanoic acid methyl ester","group":"No","value":2600},{"compound":"Decanoic acid methyl ester","group":"No","value":2500},{"compound":"Decanoic acid methyl ester","group":"No","value":2400},{"compound":"Decanoic acid methyl ester","group":"No","value":2300},{"compound":"Decanoic acid methyl ester","group":"No","value":2200},{"compound":"Decanoic acid methyl ester","group":"No","value":2100},{"compound":"Decanoic acid methyl ester","group":"No","value":2000},{"compound":"Decanoic acid methyl ester","group":"No","value":1900},{"compound":"Decanoic acid methyl ester","group":"No","value":1850},{"compound":"Decanoic acid methyl ester","group":"No","value":1785},{"compound":"Decanoic acid methyl ester","group":"No","value":1700},{"compound":"Decanoic acid methyl ester","group":"No","value":1650},{"compound":"Decanoic acid methyl ester","group":"No","value":1600},{"compound":"Decanoic acid methyl ester","group":"No","value":1550},{"compound":"Decanoic acid methyl ester","group":"No","value":1500},{"compound":"Decanoic acid methyl ester","group":"No","value":1450},{"compound":"Decanoic acid methyl ester","group":"No","value":1400},{"compound":"Decanoic acid methyl ester","group":"No","value":1350},{"compound":"Decanoic acid methyl ester","group":"No","value":1300},{"compound":"Decanoic acid methyl ester","group":"No","value":1250},{"compound":"Decanoic acid methyl ester","group":"No","value":1200},{"compound":"Decanoic acid methyl ester","group":"No","value":1150},{"compound":"Decanoic acid methyl ester","group":"No","value":1100},{"compound":"Decanoic acid methyl ester","group":"No","value":1050},{"compound":"Decanoic acid methyl ester","group":"No","value":1000},{"compound":"Decanoic acid methyl ester","group":"No","value":942},{"compound":"Decanoic acid methyl ester","group":"No","value":900},{"compound":"Decanoic acid methyl ester","group":"No","value":850},{"compound":"Decanoic acid methyl ester","group":"No","value":800},{"compound":"Decanoic acid methyl ester","group":"No","value":750},{"compound":"Decanoic acid methyl ester","group":"No","value":700},{"compound":"Decanoic acid methyl ester","group":"No","value":650},{"compound":"Decanoic acid methyl ester","group":"No","value":600},{"compound":"Decanoic acid methyl ester","group":"No","value":550},{"compound":"Decanoic acid methyl ester","group":"No","value":500},{"compound":"Decanoic acid methyl ester","group":"No","value":460},{"compound":"Decanoic acid methyl ester","group":"No","value":420},{"compound":"Decanoic acid methyl ester","group":"No","value":380},{"compound":"Decanoic acid methyl ester","group":"No","value":340},{"compound":"Decanoic acid methyl ester","group":"No","value":300},{"compound":"Decanoic acid methyl ester","group":"No","value":270},{"compound":"Decanoic acid methyl ester","group":"No","value":240},{"compound":"Decanoic acid methyl ester","group":"No","value":200},{"compound":"Decanoic acid methyl ester","group":"No","value":150},{"compound":"Decanoic acid methyl ester","group":"No","value":41.6},
    {"compound":"Dodecanoic acid methyl ester","group":"Yes","value":345},{"compound":"Dodecanoic acid methyl ester","group":"Yes","value":342},{"compound":"Dodecanoic acid methyl ester","group":"Yes","value":338},{"compound":"Dodecanoic acid methyl ester","group":"Yes","value":335},
    {"compound":"Dodecanoic acid methyl ester","group":"No","value":1745},{"compound":"Dodecanoic acid methyl ester","group":"No","value":1556},{"compound":"Dodecanoic acid methyl ester","group":"No","value":1114},{"compound":"Dodecanoic acid methyl ester","group":"No","value":940},{"compound":"Dodecanoic acid methyl ester","group":"No","value":840},{"compound":"Dodecanoic acid methyl ester","group":"No","value":750},{"compound":"Dodecanoic acid methyl ester","group":"No","value":713},{"compound":"Dodecanoic acid methyl ester","group":"No","value":660},{"compound":"Dodecanoic acid methyl ester","group":"No","value":600},{"compound":"Dodecanoic acid methyl ester","group":"No","value":540},{"compound":"Dodecanoic acid methyl ester","group":"No","value":510},{"compound":"Dodecanoic acid methyl ester","group":"No","value":455},{"compound":"Dodecanoic acid methyl ester","group":"No","value":426},{"compound":"Dodecanoic acid methyl ester","group":"No","value":400},{"compound":"Dodecanoic acid methyl ester","group":"No","value":365},{"compound":"Dodecanoic acid methyl ester","group":"No","value":325},{"compound":"Dodecanoic acid methyl ester","group":"No","value":285},{"compound":"Dodecanoic acid methyl ester","group":"No","value":260},{"compound":"Dodecanoic acid methyl ester","group":"No","value":246},{"compound":"Dodecanoic acid methyl ester","group":"No","value":206},{"compound":"Dodecanoic acid methyl ester","group":"No","value":155},{"compound":"Dodecanoic acid methyl ester","group":"No","value":138},{"compound":"Dodecanoic acid methyl ester","group":"No","value":53},{"compound":"Dodecanoic acid methyl ester","group":"No","value":49},{"compound":"Dodecanoic acid methyl ester","group":"No","value":8.8}
  ]
},
"vconcat": [
  {
    "title": {"text": "a", "anchor": "start", "frame": "bounds", "fontSize": 13, "fontWeight": "bold", "color": "#111", "offset": -14},
    "width": 624, "height": 269,
    "encoding": {
      "x": {"field": "compound", "type": "nominal", "scale": {"domain": ["O-cymene","Octanoic acid methyl ester","Decanoic acid methyl ester","Pentane"], "paddingInner": 0.3, "paddingOuter": 0.17}, "axis": {"title": null, "labelAngle": 0, "labelFontSize": 10, "labelFontWeight": "bold", "labelColor": "#111", "ticks": false, "domain": false, "labelPadding": 4, "grid": false, "labelDx": -14}},
      "xOffset": {"field": "group", "type": "nominal", "scale": {"domain": ["Pasifika","European","Asian","Māori","Other"], "paddingInner": 0, "paddingOuter": 0}}
    },
    "layer": [
      {"data": {"name": "statsA"}, "mark": {"type": "rule", "strokeWidth": 1.5, "opacity": 0.5},
       "encoding": {
         "y": {"field": "lo", "type": "quantitative", "scale": {"type": "log", "domain": [24.3, 39000], "nice": false, "zero": false},
               "axis": {"orient": "left", "title": "Relative peak area", "values": [50,100,200,500,1000,2000,5000,10000,20000], "labelExpr": "datum.value == 20000 ? '2000' : datum.value == 10000 ? '10,000' : format(datum.value, 'd')", "grid": true, "gridColor": "#f0f0f0", "tickColor": "#aaa", "tickSize": 4, "labelFontSize": 8, "labelColor": "#333", "titleFontSize": 8, "titleFontWeight": "normal", "titleColor": "#222", "titlePadding": 2, "domain": false, "labelPadding": 2}},
         "y2": {"field": "hi"},
         "color": {"field": "group", "type": "nominal", "scale": {"domain": ["Pasifika","European","Asian","Māori","Other"], "range": ["#4169e1","#ff9900","#1f8f1f","#8b1a8b","#fa7268"]},
                   "legend": {"orient": "none", "legendX": 129, "legendY": -22, "direction": "horizontal", "title": "Ethnicity", "titleOrient": "left", "titleFontSize": 12, "titleFontWeight": "bold", "titleColor": "#111", "titlePadding": 12, "labelFontSize": 11, "labelColor": "#222", "symbolType": "square", "symbolSize": 100, "columnPadding": 10, "labelOffset": 3,
                              "encode": {"symbols": {"update": {"fillOpacity": {"value": 0.45}, "strokeOpacity": {"value": 0.9}, "strokeWidth": {"value": 1}, "opacity": {"value": 1}}}}}}
       }},
      {"data": {"name": "statsA"}, "mark": {"type": "bar", "width": 18, "fillOpacity": 0.45, "strokeOpacity": 0.7, "strokeWidth": 1.2},
       "encoding": {
         "y": {"field": "q1", "type": "quantitative", "scale": {"type": "log", "domain": [24.3, 39000], "nice": false, "zero": false}, "axis": null},
         "y2": {"field": "q3"},
         "color": {"field": "group", "type": "nominal"},
         "stroke": {"field": "group", "type": "nominal", "scale": {"domain": ["Pasifika","European","Asian","Māori","Other"], "range": ["#4169e1","#ff9900","#1f8f1f","#8b1a8b","#fa7268"]}, "legend": null}
       }},
      {"data": {"name": "statsA"}, "mark": {"type": "tick", "size": 18, "thickness": 1.3, "opacity": 0.85},
       "encoding": {
         "y": {"field": "med", "type": "quantitative", "scale": {"type": "log", "domain": [24.3, 39000], "nice": false, "zero": false}, "axis": null},
         "color": {"field": "group", "type": "nominal"}
       }},
      {"data": {"name": "statsA"}, "mark": {"type": "point", "shape": "stroke", "size": 324, "strokeWidth": 1, "strokeDash": [2, 1.5], "opacity": 0.85},
       "encoding": {
         "y": {"field": "mean", "type": "quantitative", "scale": {"type": "log", "domain": [24.3, 39000], "nice": false, "zero": false}, "axis": null},
         "color": {"field": "group", "type": "nominal"}
       }},
      {"data": {"name": "statsA"}, "mark": {"type": "tick", "size": 13, "thickness": 2, "opacity": 0.45},
       "encoding": {
         "y": {"field": "lo", "type": "quantitative", "scale": {"type": "log", "domain": [24.3, 39000], "nice": false, "zero": false}, "axis": null},
         "color": {"field": "group", "type": "nominal"}
       }},
      {"data": {"name": "statsA"}, "mark": {"type": "tick", "size": 13, "thickness": 2, "opacity": 0.45},
       "encoding": {
         "y": {"field": "hi", "type": "quantitative", "scale": {"type": "log", "domain": [24.3, 39000], "nice": false, "zero": false}, "axis": null},
         "color": {"field": "group", "type": "nominal"}
       }},
      {"data": {"name": "pointsA"}, "mark": {"type": "circle", "size": 16, "opacity": 0.9},
       "encoding": {
         "y": {"field": "value", "type": "quantitative", "scale": {"type": "log", "domain": [24.3, 39000], "nice": false, "zero": false},
               "axis": {"orient": "right", "labels": false, "title": null, "values": [50,100,200,500,1000,2000,5000,10000,20000], "grid": false, "domain": false, "tickSize": 3, "tickColor": "#aaa"}},
         "color": {"field": "group", "type": "nominal"}
       }},
      {"data": {"name": "bracketsA"}, "transform": [{"filter": "datum.vs == 'European'"}],
       "mark": {"type": "point", "shape": "M0,-0.23V0.23M0,0H2M2,-0.23V0.23", "size": 466, "filled": false, "stroke": "#333", "strokeWidth": 1.1, "opacity": 1},
       "encoding": {"y": {"field": "y", "type": "quantitative", "scale": {"type": "log", "domain": [24.3, 39000], "nice": false, "zero": false}, "axis": null}}},
      {"data": {"name": "bracketsA"}, "transform": [{"filter": "datum.vs == 'Asian'"}],
       "mark": {"type": "point", "shape": "M0,-0.116V0.116M0,0H2M2,-0.116V0.116", "size": 1866, "filled": false, "stroke": "#333", "strokeWidth": 1.1, "opacity": 1},
       "encoding": {"y": {"field": "y", "type": "quantitative", "scale": {"type": "log", "domain": [24.3, 39000], "nice": false, "zero": false}, "axis": null}}},
      {"data": {"name": "bracketsA"}, "transform": [{"filter": "datum.vs == 'European'"}],
       "mark": {"type": "text", "dx": 10.8, "dy": -2, "fontSize": 10, "color": "#333", "baseline": "middle"},
       "encoding": {"y": {"field": "y", "type": "quantitative", "scale": {"type": "log", "domain": [24.3, 39000], "nice": false, "zero": false}, "axis": null}, "text": {"field": "label"}}},
      {"data": {"name": "bracketsA"}, "transform": [{"filter": "datum.vs == 'Asian'"}],
       "mark": {"type": "text", "dx": 21.6, "dy": -2, "fontSize": 10, "color": "#333", "baseline": "middle"},
       "encoding": {"y": {"field": "y", "type": "quantitative", "scale": {"type": "log", "domain": [24.3, 39000], "nice": false, "zero": false}, "axis": null}, "text": {"field": "label"}}}
    ],
    "resolve": {"axis": {"y": "independent"}}
  },
  {
    "title": {"text": "b", "anchor": "start", "frame": "bounds", "fontSize": 13, "fontWeight": "bold", "color": "#111", "offset": -14},
    "width": 624, "height": 269,
    "encoding": {
      "x": {"field": "compound", "type": "nominal", "scale": {"domain": ["O-cymene","Octanoic acid methyl ester","Decanoic acid methyl ester","Dodecanoic acid methyl ester"], "paddingInner": 0.3, "paddingOuter": 0.17}, "axis": {"title": null, "labelAngle": 0, "labelFontSize": 10, "labelFontWeight": "bold", "labelColor": "#111", "ticks": false, "domain": false, "labelPadding": 4, "grid": false, "labelDx": -6}},
      "xOffset": {"field": "group", "type": "nominal", "scale": {"domain": ["Yes","No"], "paddingInner": 0, "paddingOuter": 0}}
    },
    "layer": [
      {"data": {"name": "statsB"}, "mark": {"type": "rule", "strokeWidth": 1.5, "opacity": 0.5},
       "encoding": {
         "y": {"field": "lo", "type": "quantitative", "scale": {"type": "log", "domain": [5.2, 43700], "nice": false, "zero": false},
               "axis": {"orient": "left", "title": "Relative peak area", "values": [10,20,50,100,200,500,1000,2000,5000,10000,20000], "labelExpr": "datum.value == 20000 ? '2000' : datum.value == 10000 ? '10,000' : format(datum.value, 'd')", "grid": true, "gridColor": "#f0f0f0", "tickColor": "#aaa", "tickSize": 4, "labelFontSize": 8, "labelColor": "#333", "titleFontSize": 8, "titleFontWeight": "normal", "titleColor": "#222", "titlePadding": 2, "domain": false, "labelPadding": 2}},
         "y2": {"field": "hi"},
         "color": {"field": "group", "type": "nominal", "scale": {"domain": ["Yes","No"], "range": ["#4169e1","#1f8f1f"]},
                   "legend": {"orient": "none", "legendX": 198, "legendY": -22, "direction": "horizontal", "title": "Gestational diabetes", "titleOrient": "left", "titleFontSize": 12, "titleFontWeight": "bold", "titleColor": "#111", "titlePadding": 12, "labelFontSize": 11, "labelColor": "#222", "symbolType": "square", "symbolSize": 100, "columnPadding": 16, "labelOffset": 3,
                              "encode": {"symbols": {"update": {"fillOpacity": {"value": 0.45}, "strokeOpacity": {"value": 0.9}, "strokeWidth": {"value": 1}, "opacity": {"value": 1}}}}}}
       }},
      {"data": {"name": "statsB"}, "mark": {"type": "bar", "width": 44, "fillOpacity": 0.45, "strokeOpacity": 0.7, "strokeWidth": 1.2},
       "encoding": {
         "y": {"field": "q1", "type": "quantitative", "scale": {"type": "log", "domain": [5.2, 43700], "nice": false, "zero": false}, "axis": null},
         "y2": {"field": "q3"},
         "color": {"field": "group", "type": "nominal"},
         "stroke": {"field": "group", "type": "nominal", "scale": {"domain": ["Yes","No"], "range": ["#4169e1","#1f8f1f"]}, "legend": null}
       }},
      {"data": {"name": "statsB"}, "mark": {"type": "tick", "size": 44, "thickness": 1.3, "opacity": 0.85},
       "encoding": {
         "y": {"field": "med", "type": "quantitative", "scale": {"type": "log", "domain": [5.2, 43700], "nice": false, "zero": false}, "axis": null},
         "color": {"field": "group", "type": "nominal"}
       }},
      {"data": {"name": "statsB"}, "mark": {"type": "point", "shape": "stroke", "size": 1936, "strokeWidth": 1, "strokeDash": [2, 1.5], "opacity": 0.85},
       "encoding": {
         "y": {"field": "mean", "type": "quantitative", "scale": {"type": "log", "domain": [5.2, 43700], "nice": false, "zero": false}, "axis": null},
         "color": {"field": "group", "type": "nominal"}
       }},
      {"data": {"name": "statsB"}, "mark": {"type": "tick", "size": 32, "thickness": 2, "opacity": 0.45},
       "encoding": {
         "y": {"field": "lo", "type": "quantitative", "scale": {"type": "log", "domain": [5.2, 43700], "nice": false, "zero": false}, "axis": null},
         "color": {"field": "group", "type": "nominal"}
       }},
      {"data": {"name": "statsB"}, "mark": {"type": "tick", "size": 32, "thickness": 2, "opacity": 0.45},
       "encoding": {
         "y": {"field": "hi", "type": "quantitative", "scale": {"type": "log", "domain": [5.2, 43700], "nice": false, "zero": false}, "axis": null},
         "color": {"field": "group", "type": "nominal"}
       }},
      {"data": {"name": "pointsB"}, "mark": {"type": "circle", "size": 16, "opacity": 0.9},
       "encoding": {
         "y": {"field": "value", "type": "quantitative", "scale": {"type": "log", "domain": [5.2, 43700], "nice": false, "zero": false},
               "axis": {"orient": "right", "labels": false, "title": null, "values": [10,20,50,100,200,500,1000,2000,5000,10000,20000], "grid": false, "domain": false, "tickSize": 3, "tickColor": "#aaa"}},
         "color": {"field": "group", "type": "nominal"}
       }},
      {"data": {"name": "bracketsB"},
       "mark": {"type": "point", "shape": "M0,-0.093V0.093M0,0H2M2,-0.093V0.093", "size": 2916, "filled": false, "stroke": "#333", "strokeWidth": 1.1, "opacity": 1},
       "encoding": {"y": {"field": "y", "type": "quantitative", "scale": {"type": "log", "domain": [5.2, 43700], "nice": false, "zero": false}, "axis": null}}},
      {"data": {"name": "bracketsB"},
       "mark": {"type": "text", "dx": 27, "dy": -2, "fontSize": 10, "color": "#333", "baseline": "middle"},
       "encoding": {"y": {"field": "y", "type": "quantitative", "scale": {"type": "log", "domain": [5.2, 43700], "nice": false, "zero": false}, "axis": null}, "text": {"field": "label"}}}
    ],
    "resolve": {"axis": {"y": "independent"}}
  }
]
}
